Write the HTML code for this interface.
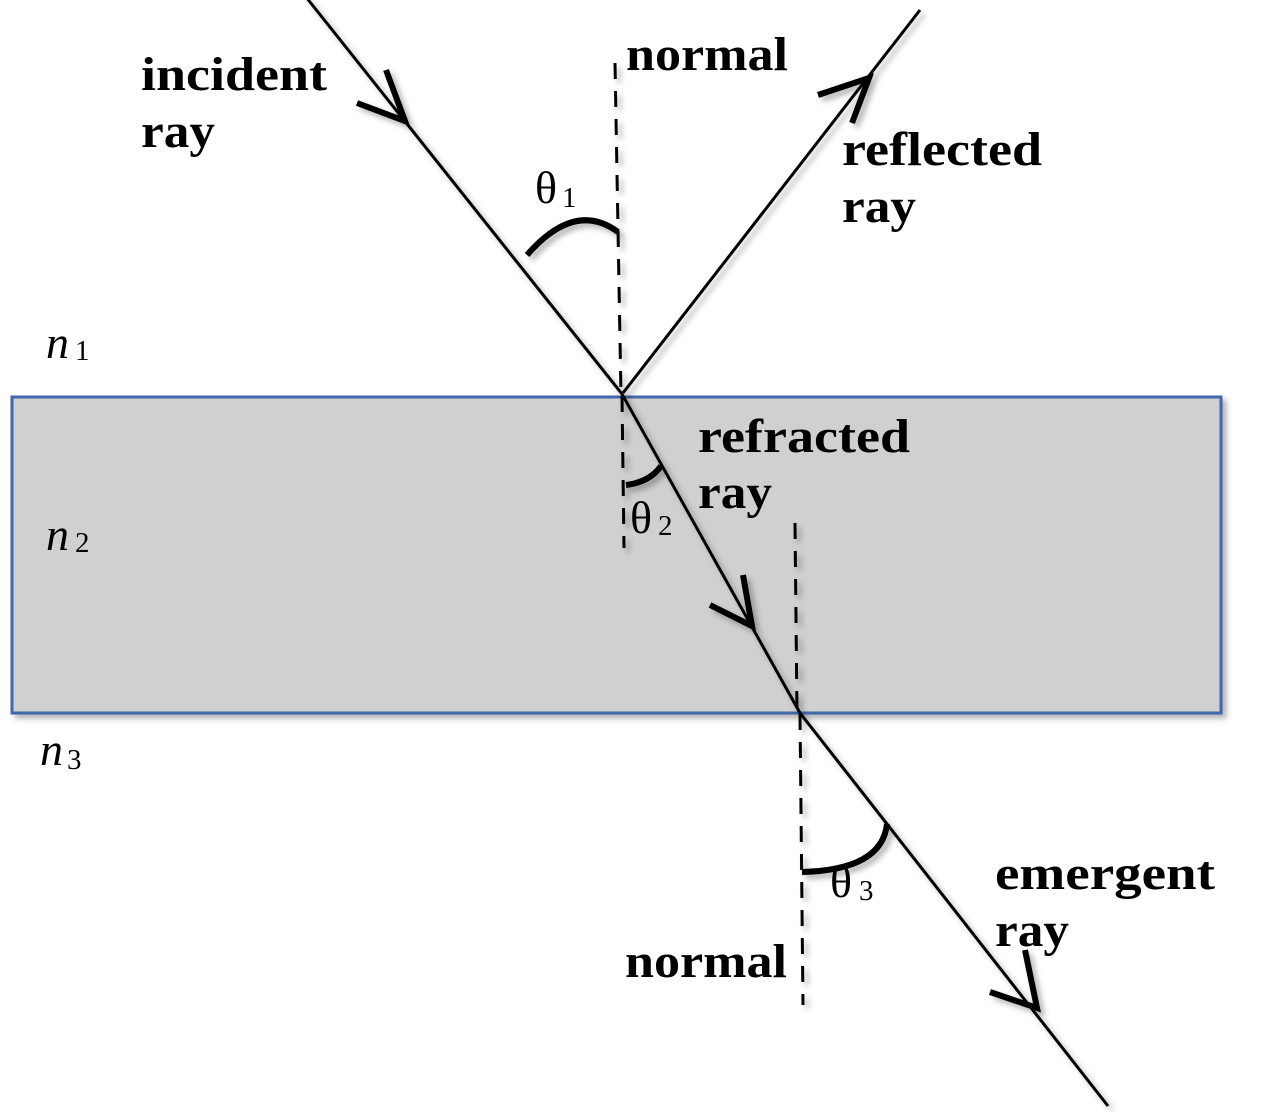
<!DOCTYPE html>
<html>
<head>
<meta charset="utf-8">
<style>
  html,body{margin:0;padding:0;background:#fff;}
  svg{display:block;}
  .lbl{font-family:"Liberation Serif",serif;font-weight:bold;font-size:48px;fill:#000;}
  .th{font-family:"Liberation Serif",serif;font-size:46px;fill:#000;}
  .sub{font-family:"Liberation Serif",serif;font-size:29px;fill:#000;}
  .n{font-family:"Liberation Serif",serif;font-style:italic;font-size:46px;fill:#000;}
</style>
</head>
<body>
<svg width="1271" height="1112" viewBox="0 0 1271 1112" xmlns="http://www.w3.org/2000/svg">
  <defs>
    <filter id="sh" x="-10%" y="-10%" width="120%" height="120%">
      <feDropShadow dx="4" dy="4" stdDeviation="3" flood-color="#000" flood-opacity="0.3"/>
    </filter>
  </defs>

  <!-- slab -->
  <rect x="12" y="397" width="1209" height="316" fill="#d0d0d0" stroke="#4068ac" stroke-width="3" filter="url(#sh)"/>

  <g filter="url(#sh)" fill="none" stroke="#000">
    <!-- rays -->
    <line x1="306" y1="-3" x2="622" y2="394" stroke-width="3"/>
    <line x1="623" y1="393" x2="920" y2="10" stroke-width="3"/>
    <line x1="622" y1="394" x2="800" y2="713" stroke-width="3"/>
    <line x1="800" y1="713" x2="1108" y2="1106" stroke-width="3"/>

    <!-- normals -->
    <line x1="615" y1="63" x2="621" y2="395" stroke-width="3" stroke-dasharray="16 12"/>
    <line x1="622" y1="396" x2="624" y2="548" stroke-width="3" stroke-dasharray="16 12"/>
    <line x1="795" y1="523" x2="797" y2="713" stroke-width="3" stroke-dasharray="16 12"/>
    <line x1="800" y1="714" x2="803" y2="1005" stroke-width="3" stroke-dasharray="16 12"/>

    <!-- arrowheads -->
    <polyline points="357,103 405,121 386,70" stroke-width="6"/>
    <polyline points="818,95 869,78 852,123" stroke-width="6"/>
    <polyline points="710,605 752,626 743,575" stroke-width="6"/>
    <polyline points="990,992 1037,1008 1025,950" stroke-width="6"/>

    <!-- angle arcs -->
    <path d="M527,255 Q575,200 618,232" stroke-width="6"/>
    <path d="M626,485 Q650,482 661,466" stroke-width="6"/>
    <path d="M802,872 Q882,870 887,824" stroke-width="6"/>
  </g>

  <!-- labels -->
  <text class="lbl" x="141" y="90" textLength="186" lengthAdjust="spacingAndGlyphs">incident</text>
  <text class="lbl" x="141" y="147" textLength="74" lengthAdjust="spacingAndGlyphs">ray</text>

  <text class="lbl" x="626" y="70" textLength="162" lengthAdjust="spacingAndGlyphs">normal</text>

  <text class="lbl" x="842" y="165" textLength="200" lengthAdjust="spacingAndGlyphs">reflected</text>
  <text class="lbl" x="842" y="222" textLength="74" lengthAdjust="spacingAndGlyphs">ray</text>

  <text class="lbl" x="698" y="452" textLength="212" lengthAdjust="spacingAndGlyphs">refracted</text>
  <text class="lbl" x="698" y="508" textLength="74" lengthAdjust="spacingAndGlyphs">ray</text>

  <text class="lbl" x="995" y="889" textLength="220" lengthAdjust="spacingAndGlyphs">emergent</text>
  <text class="lbl" x="995" y="946" textLength="74" lengthAdjust="spacingAndGlyphs">ray</text>

  <text class="lbl" x="625" y="977" textLength="162" lengthAdjust="spacingAndGlyphs">normal</text>

  <!-- thetas -->
  <text class="th" x="535" y="203">θ</text><text class="sub" x="562" y="207">1</text>
  <text class="th" x="630" y="533">θ</text><text class="sub" x="658" y="535">2</text>
  <text class="th" x="830" y="897">θ</text><text class="sub" x="859" y="900">3</text>

  <!-- indices -->
  <text class="n" x="46" y="358">n</text><text class="sub" x="75" y="360">1</text>
  <text class="n" x="46" y="550">n</text><text class="sub" x="75" y="552">2</text>
  <text class="n" x="40" y="765">n</text><text class="sub" x="67" y="769">3</text>
</svg>
</body>
</html>
